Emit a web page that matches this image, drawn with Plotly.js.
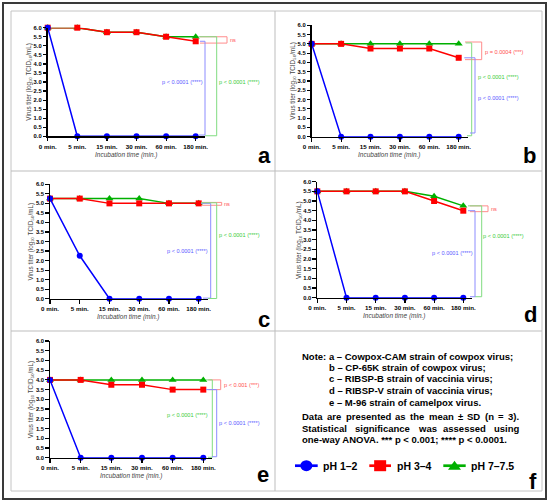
<!DOCTYPE html>
<html><head><meta charset="utf-8">
<script src="https://cdn.plot.ly/plotly-3.0.1.min.js"></script>
<style>html,body{margin:0;padding:0;background:#fff}#chart{width:550px;height:503px}</style>
</head><body><div id="chart"></div>
<script>
// ---------- DATA ----------
const timeLabels = ['0 min.', '5 min.', '15 min.', '30 min.', '60 min.', '180 min.'];
const seriesNames = ['pH 1–2', 'pH 3–4', 'pH 7–7.5'];
const yTickVals = [0, 0.5, 1, 1.5, 2, 2.5, 3, 3.5, 4, 4.5, 5, 5.5, 6];
const yTickText = ['0.0','0.5','1.0','1.5','2.0','2.5','3.0','3.5','4.0','4.5','5.0','5.5','6.0'];
const xTitle = 'Incubation time (min.)';
const yTitle = 'Virus titer (log₁₀ TCID₅₀/mL)';

// a – Cowpox-CAM
const a_pH12 = [6.0, 0, 0, 0, 0, 0];
const a_pH34 = [6.0, 6.0, 5.75, 5.75, 5.5, 5.25];
const a_pH7  = [6.0, 6.0, 5.75, 5.75, 5.5, 5.5];
// b – CP-65K
const b_pH12 = [5.0, 0, 0, 0, 0, 0];
const b_pH34 = [5.0, 5.0, 4.75, 4.75, 4.75, 4.25];
const b_pH7  = [5.0, 5.0, 5.0, 5.0, 5.0, 5.0];
// c – RIBSP-B
const c_pH12 = [5.25, 2.25, 0, 0, 0, 0];
const c_pH34 = [5.25, 5.25, 5.0, 5.0, 5.0, 5.0];
const c_pH7  = [5.25, 5.25, 5.25, 5.25, 5.0, 5.0];
// d – RIBSP-V
const d_pH12 = [5.5, 0, 0, 0, 0, 0];
const d_pH34 = [5.5, 5.5, 5.5, 5.5, 5.0, 4.5];
const d_pH7  = [5.5, 5.5, 5.5, 5.5, 5.25, 4.75];
// e – M-96
const e_pH12 = [4.0, 0, 0, 0, 0, 0];
const e_pH34 = [4.0, 4.0, 3.75, 3.75, 3.5, 3.5];
const e_pH7  = [4.0, 4.0, 4.0, 4.0, 4.0, 4.0];

const noteFirst = 'Note: a – Cowpox-CAM strain of cowpox virus;';
const noteLines = [
  'b – CP-65K strain of cowpox virus;',
  'c – RIBSP-B strain of vaccinia virus;',
  'd – RIBSP-V strain of vaccinia virus;',
  'e – M-96 strain of camelpox virus.'
];
const noteData = 'Data are presented as the mean ± SD (n = 3).';
const noteStat = 'Statistical significance was assessed using';
const noteAnova = 'one-way ANOVA. *** p < 0.001; **** p < 0.0001.';

// ---------- LAYOUT HELPERS ----------
const W = 550, H = 503;
const px = x => x / W;
const py = y => 1 - y / H;
const FONT = 'Liberation Sans, Arial, sans-serif';
const BLUE = '#0000ff', RED = '#ff0000', GREEN = '#00b000';
const BL = '#8c8cff', RL = '#ff8c8c', GL = '#80dc80';
const BT = '#5c5cff', RT = '#ff5050', GT = '#3ccc3c';
const XR = 5.3;

const canvas = document.createElement('canvas');
const ctx = canvas.getContext('2d');
function measure(t, size, bold) {
  ctx.font = (bold ? 'bold ' : '') + size + 'px "Liberation Sans"';
  return ctx.measureText(t).width;
}

const panels = [
  {letter:'a', x0:47.7, dx:29.6, y0:136.3, y6:27.7, s:[a_pH12, a_pH34, a_pH7], lx:264, ly:155.7},
  {letter:'b', x0:311.7, dx:29.4, y0:136.7, y6:25.3, s:[b_pH12, b_pH34, b_pH7], lx:529.5, ly:155.7},
  {letter:'c', x0:50, dx:29.74, y0:298.7, y6:184.3, s:[c_pH12, c_pH34, c_pH7], lx:263.5, ly:319.7},
  {letter:'d', x0:317.3, dx:29.2, y0:297.7, y6:181.7, s:[d_pH12, d_pH34, d_pH7], lx:530, ly:314.7},
  {letter:'e', x0:50, dx:30.66, y0:457.7, y6:341, s:[e_pH12, e_pH34, e_pH7], lx:263, ly:474.7}
];

// significance brackets: x in page px, y in data units
const brackets = [
  [ {c:RL, top:a_pH7[5], bot:a_pH34[5]-0.1, xt:200, xv:227, xb:200, txt:'ns', tc:RT, tx:229, ty:(a_pH7[5]+a_pH34[5]-0.1)/2, al:'left'},
    {c:BL, top:a_pH34[5], bot:0.07, xt:200, xv:205, xb:199, txt:'p < 0.0001 (****)', tc:BT, tx:203.5, ty:3.0, al:'right'},
    {c:GL, top:a_pH7[5], bot:0.03, xt:198, xv:216.7, xb:205, txt:'p < 0.0001 (****)', tc:GT, tx:218, ty:3.0, al:'left'} ],
  [ {c:RL, top:b_pH7[5]+0.1, bot:b_pH34[5]-0.1, xt:465, xv:481.7, xb:465, txt:'p = 0.0004 (***)', tc:RT, tx:484, ty:4.55, al:'left'},
    {c:GL, top:b_pH7[5]+0.05, bot:0.05, xt:465.7, xv:471.7, xb:467, txt:'p < 0.0001 (****)', tc:GT, tx:477, ty:3.24, al:'left'},
    {c:BL, top:b_pH34[5], bot:0.2, xt:464.3, xv:475, xb:470, txt:'p < 0.0001 (****)', tc:BT, tx:477, ty:2.1, al:'left'} ],
  [ {c:RL, top:c_pH7[5]+0.05, bot:c_pH34[5]-0.1, xt:201.7, xv:221.7, xb:201.7, txt:'ns', tc:RT, tx:223, ty:4.98, al:'left'},
    {c:BL, top:c_pH34[5], bot:0.03, xt:201, xv:210.7, xb:203, txt:'p < 0.0001 (****)', tc:BT, tx:209, ty:2.5, al:'right'},
    {c:GL, top:c_pH7[5]+0.03, bot:0.01, xt:201, xv:216.7, xb:208, txt:'p < 0.0001 (****)', tc:GT, tx:217.7, ty:3.32, al:'left'} ],
  [ {c:RL, top:d_pH7[5], bot:d_pH34[5]-0.05, xt:470, xv:488, xb:470, txt:'ns', tc:RT, tx:490, ty:4.6, al:'left'},
    {c:GL, top:d_pH7[5], bot:0.05, xt:468, xv:481.7, xb:475, txt:'p < 0.0001 (****)', tc:GT, tx:482.3, ty:3.19, al:'left'},
    {c:BL, top:d_pH34[5], bot:0.05, xt:468, xv:475, xb:470, txt:'p < 0.0001 (****)', tc:BT, tx:474, ty:2.33, al:'right'} ],
  [ {c:RL, top:e_pH7[5], bot:e_pH34[5], xt:208.3, xv:220.7, xb:208.3, txt:'p < 0.001 (***)', tc:RT, tx:222.7, ty:3.74, al:'left'},
    {c:GL, top:e_pH7[5], bot:0.02, xt:206, xv:212.3, xb:208, txt:'p < 0.0001 (****)', tc:GT, tx:209.3, ty:2.2, al:'right'},
    {c:BL, top:e_pH34[5], bot:0.05, xt:206, xv:216.7, xb:212, txt:'p < 0.0001 (****)', tc:BT, tx:218.3, ty:1.8, al:'left'} ]
];

const traces = [];
const layout = {
  width: W, height: H, margin: {l:0, r:0, t:0, b:0},
  paper_bgcolor: '#ffffff', plot_bgcolor: 'rgba(0,0,0,0)',
  showlegend: false, font: {family: FONT, color: '#000'},
  shapes: [], annotations: []
};

const txt = (x, y, t, anchor, size, color) => ({xref:'paper', yref:'paper', x:px(x), y:py(y), text:t,
  showarrow:false, xanchor:anchor || 'left', yanchor:'middle', borderpad:0,
  font:{family:FONT, size:size, color:color || '#000', weight:700}});

const colorsBySeries = [BLUE, RED, GREEN];
const symbols = ['circle', 'square', 'triangle-up'];
const msize = [6, 6, 7];

panels.forEach((p, i) => {
  const n = i === 0 ? '' : String(i + 1);
  const xr = 'x' + n, yr = 'y' + n;
  const vy = v => p.y0 - v * (p.y0 - p.y6) / 6;   // data value -> page px (annotation placement)
  const xEnd = p.x0 + XR * p.dx;
  layout['xaxis' + n] = {
    domain: [px(p.x0), px(xEnd)], anchor: yr, type: 'category',
    categoryorder: 'array', categoryarray: timeLabels,
    range: [0, XR], showline: true, linecolor: '#000', linewidth: 1.4,
    ticks: 'outside', ticklen: 3.5, tickwidth: 1.2, tickcolor: '#000',
    showgrid: false, zeroline: false, fixedrange: true,
    tickfont: {family: FONT, size: 6.2, color: '#000', weight: 700}
  };
  layout['yaxis' + n] = {
    domain: [py(p.y0), py(p.y6)], anchor: xr, range: [0, 6],
    tickvals: yTickVals, ticktext: yTickText,
    showline: true, linecolor: '#000', linewidth: 1.4,
    ticks: 'outside', ticklen: 3.5, tickwidth: 1.2, tickcolor: '#000',
    showgrid: false, zeroline: false, fixedrange: true,
    tickfont: {family: FONT, size: 5.8, color: '#000', weight: 700}
  };
  // draw order: green, red, blue (blue on top)
  [2, 1, 0].forEach(k => {
    traces.push({
      type: 'scatter', mode: 'lines+markers', name: seriesNames[k],
      x: timeLabels, y: p.s[k], xaxis: xr, yaxis: yr, cliponaxis: false,
      line: {color: colorsBySeries[k], width: 1.5},
      marker: {color: colorsBySeries[k], symbol: symbols[k], size: msize[k], line: {width: 0}},
      showlegend: false
    });
  });
  // axis titles
  layout.annotations.push({
    xref: 'paper', yref: 'paper', x: px((p.x0 + xEnd) / 2), y: py(p.y0 + 18.7),
    text: xTitle, showarrow: false, xanchor: 'center', yanchor: 'middle',
    font: {family: FONT, size: 6.5, color: '#444', style: 'italic'}, borderpad: 0
  });
  layout.annotations.push({
    xref: 'paper', yref: 'paper', x: px(p.x0 - 19), y: py((p.y0 + p.y6) / 2), textangle: -90,
    text: yTitle, showarrow: false, xanchor: 'center', yanchor: 'middle',
    font: {family: FONT, size: 6.3, color: '#444'}, borderpad: 0
  });
  // panel letter
  layout.annotations.push(txt(p.lx, p.ly, p.letter, 'center', 22));
  // brackets
  brackets[i].forEach(b => {
    const l = {color: b.c, width: 1};
    layout.shapes.push({type:'line', xref:'paper', yref:'paper', x0:px(b.xt), x1:px(b.xv), y0:py(vy(b.top)), y1:py(vy(b.top)), line:l});
    layout.shapes.push({type:'line', xref:'paper', yref:'paper', x0:px(b.xv), x1:px(b.xv), y0:py(vy(b.top)), y1:py(vy(b.bot)), line:l});
    layout.shapes.push({type:'line', xref:'paper', yref:'paper', x0:px(b.xv), x1:px(b.xb), y0:py(vy(b.bot)), y1:py(vy(b.bot)), line:l});
    layout.annotations.push({
      xref:'paper', yref:'paper', x:px(b.tx), y:py(vy(b.ty)), text:b.txt.replace(/</g, '&lt;'), showarrow:false,
      xanchor:b.al, yanchor:'middle', borderpad:0,
      font:{family:FONT, size:5.6, color:b.tc}
    });
  });
});

// ---------- FRAMES ----------
const fr = (x0, y0, x1, y1, c, w) => ({type:'rect', xref:'paper', yref:'paper',
  x0:px(x0), x1:px(x1), y0:py(y0), y1:py(y1), line:{color:c, width:w}, fillcolor:'rgba(0,0,0,0)', layer:'below'});
const ln = (x0, y0, x1, y1, c, w) => ({type:'line', xref:'paper', yref:'paper',
  x0:px(x0), x1:px(x1), y0:py(y0), y1:py(y1), line:{color:c, width:w}, layer:'below'});
layout.shapes.push(fr(3, 3, 546, 499, '#3a3a3a', 2));
layout.shapes.push(fr(11, 11, 542, 491, '#c4c4c4', 1));
layout.shapes.push(ln(275, 11, 275, 491, '#bdbdbd', 1));
layout.shapes.push(ln(11, 171, 542, 171, '#bdbdbd', 1));
layout.shapes.push(ln(11, 331, 542, 331, '#bdbdbd', 1));

// ---------- PANEL f: NOTE ----------
const NS = 9.5;
const noteX = 301, noteR = 518.3;
const indent = measure('Note: ', NS, true);
layout.annotations.push(txt(noteX, 356, noteFirst, 'left', NS));
const noteYs = [367.3, 378.7, 390.7, 402];
noteLines.forEach((t, k) => layout.annotations.push(txt(noteX + indent, noteYs[k], t, 'left', NS)));
function justify(line, y) {
  const words = line.split(' ');
  const ws = words.map(w => measure(w, NS, true));
  const total = ws.reduce((a, b) => a + b, 0);
  const gap = (noteR - noteX - total) / (words.length - 1);
  let x = noteX;
  words.forEach((w, k) => {
    layout.annotations.push(txt(x, y, w, 'left', NS));
    x += ws[k] + gap;
  });
}
justify(noteData, 416);
justify(noteStat, 428.3);
layout.annotations.push(txt(noteX, 439.3, noteAnova.replace(/</g, '&lt;'), 'left', NS));

// ---------- PANEL f: LEGEND KEY ----------
const legY = 465.7;
const legItems = [
  {c:BLUE, l0:295, l1:317.7, tx:322.3, shape:'circle'},
  {c:RED, l0:369.3, l1:391, tx:395.7, shape:'square'},
  {c:GREEN, l0:443.3, l1:465.7, tx:470, shape:'triangle'}
];
legItems.forEach((it, k) => {
  layout.shapes.push({type:'line', xref:'paper', yref:'paper', x0:px(it.l0), x1:px(it.l1), y0:py(legY), y1:py(legY), line:{color:it.c, width:2.7}});
  const cx = px((it.l0 + it.l1) / 2), cy = py(legY);
  const base = {xref:'paper', yref:'paper', xsizemode:'pixel', ysizemode:'pixel', xanchor:cx, yanchor:cy, fillcolor:it.c, line:{width:0}};
  if (it.shape === 'circle') layout.shapes.push(Object.assign({type:'circle', x0:-6, x1:6, y0:-5.5, y1:5.5}, base));
  else if (it.shape === 'square') layout.shapes.push(Object.assign({type:'rect', x0:-6, x1:6, y0:-5.5, y1:5.5}, base));
  else layout.shapes.push(Object.assign({type:'path', path:'M -6.5 -4 L 6.5 -4 L 0 5 Z'}, base));
  layout.annotations.push(txt(it.tx, legY, seriesNames[k], 'left', 10.5));
});
layout.annotations.push(txt(533, 481.7, 'f', 'center', 22));

Plotly.newPlot('chart', traces, layout, {displayModeBar: false, staticPlot: true});
</script>
</body></html>
